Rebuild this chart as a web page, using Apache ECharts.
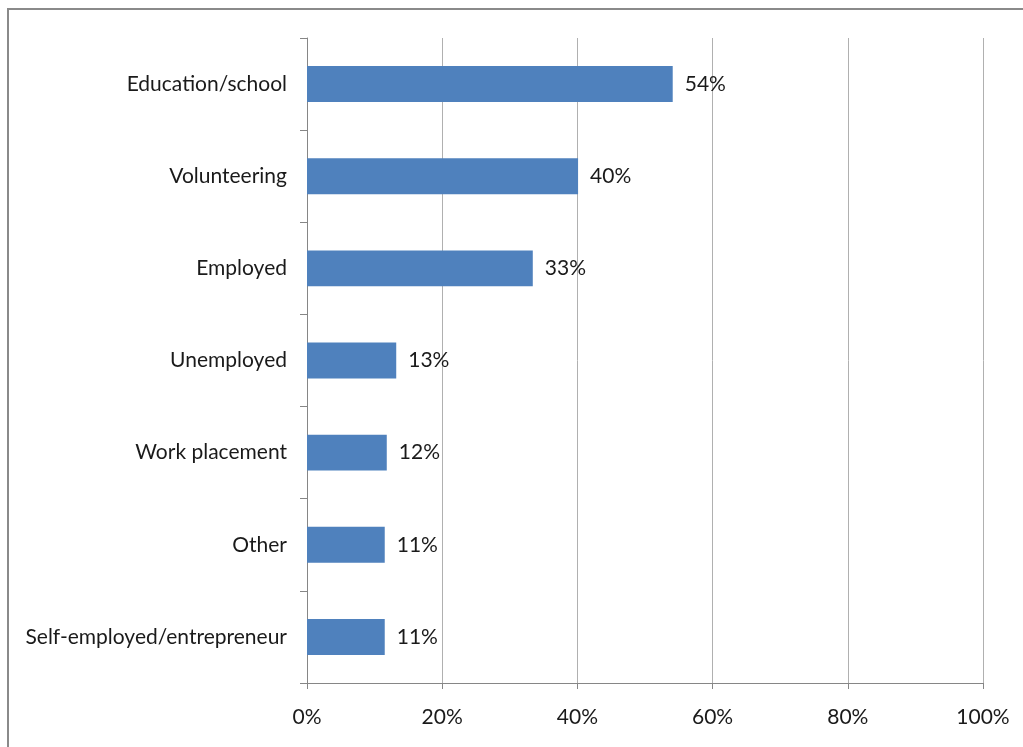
<!DOCTYPE html>
<html>
<head>
<meta charset="utf-8">
<script src="https://cdn.jsdelivr.net/npm/echarts@6/dist/echarts.min.js"></script>
<style>
html,body{margin:0;padding:0;background:#fff;}
#chart{width:1023px;height:747px;}
</style>
</head>
<body>
<div id="chart"></div>
<script>
const categories = ["Education/school","Volunteering","Employed","Unemployed","Work placement","Other","Self-employed/entrepreneur"];
const values = [54.1, 40.1, 33.4, 13.2, 11.8, 11.5, 11.5];
const labels = ["54%","40%","33%","13%","12%","11%","11%"];
const xTicks = [0, 20, 40, 60, 80, 100];

const chart = echarts.init(document.getElementById('chart'), null, {renderer:'canvas'});
const font = 'Lato, "Open Sans", sans-serif';
chart.setOption({
  animation:false,
  backgroundColor:'#ffffff',
  graphic:[{
    type:'rect', z:-1,
    shape:{x:8, y:9, width:1100, height:1000},
    style:{fill:'none', stroke:'#8a8a8a', lineWidth:2}
  }],
  grid:{left:307, right:40, top:38, bottom:64, containLabel:false},
  xAxis:{
    type:'value', min:xTicks[0], max:xTicks[xTicks.length-1], interval:20,
    axisLine:{show:true, lineStyle:{color:'#868686', width:1}},
    axisTick:{show:true, length:6, lineStyle:{color:'#868686'}},
    splitLine:{show:true, lineStyle:{color:'#b0b0b0', width:1}},
    axisLabel:{formatter:v=>v+'%', color:'#1a1a1a', fontSize:21, fontFamily:font, margin:24}
  },
  yAxis:{
    type:'category', data:categories, inverse:true,
    axisLine:{show:true, lineStyle:{color:'#868686', width:1}},
    axisTick:{show:true, length:7, alignWithLabel:false, lineStyle:{color:'#868686'}},
    splitLine:{show:false},
    axisLabel:{color:'#1a1a1a', fontSize:21, fontFamily:font, margin:20}
  },
  series:[{
    type:'bar', data:values, barWidth:'39%',
    itemStyle:{color:'#4f81bd'},
    label:{show:true, position:'right', distance:12, color:'#1a1a1a', fontSize:21, fontFamily:font,
      formatter:p=>labels[p.dataIndex]}
  }]
});
</script>
</body>
</html>
